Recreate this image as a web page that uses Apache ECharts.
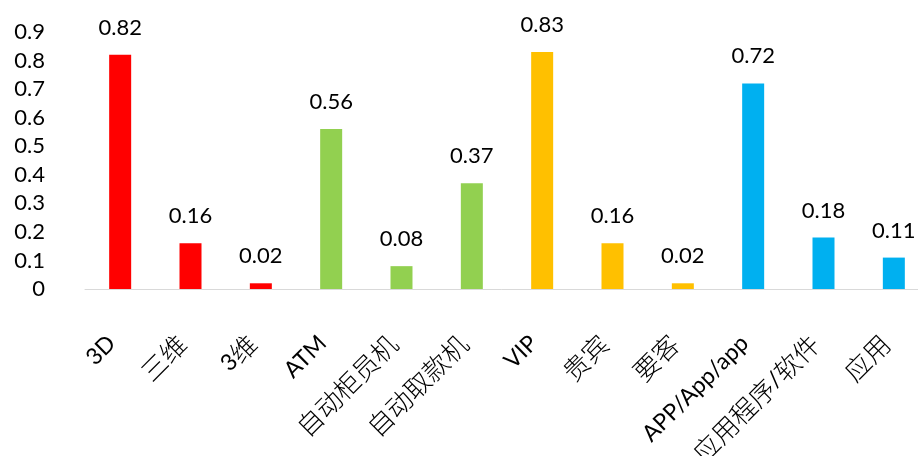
<!DOCTYPE html>
<html>
<head>
<meta charset="utf-8">
<script src="https://cdn.jsdelivr.net/npm/echarts@6/dist/echarts.min.js"></script>
<style>html,body{margin:0;padding:0;background:#fff;}#c{width:918px;height:456px;}</style>
</head>
<body>
<div id="c"></div>
<script>
var categories = ['3D', '三维', '3维', 'ATM', '自动柜员机', '自动取款机', 'VIP', '贵宾', '要客', 'APP/App/app', '应用程序/软件', '应用'];
var values = [0.82, 0.16, 0.02, 0.56, 0.08, 0.37, 0.83, 0.16, 0.02, 0.72, 0.18, 0.11];
var groupColors = ['#FF0000', '#FF0000', '#FF0000', '#92D050', '#92D050', '#92D050', '#FFC000', '#FFC000', '#FFC000', '#00B0F0', '#00B0F0', '#00B0F0'];
var yTicks = [0, 0.1, 0.2, 0.3, 0.4, 0.5, 0.6, 0.7, 0.8, 0.9];

var chart = echarts.init(document.getElementById('c'));
function richLabel(s) {
  return s.replace(/([\u4e00-\u9fff]+)/g, '{c|$1}').replace(/(^|\})([^{}]+?)(?=\{|$)/g, function (m, p, t) { return p + '{l|' + t + '}'; });
}
chart.setOption({
  animation: false,
  grid: { left: 85, top: 32, width: 844, height: 257, outerBoundsMode: 'none', containLabel: false },
  xAxis: {
    type: 'category',
    data: categories,
    axisLine: { lineStyle: { color: '#d9d9d9', width: 1 } },
    axisTick: { show: false },
    axisLabel: {
      interval: 0,
      rotate: 45,
      margin: 42,
      padding: [0, 12, 0, 0],
      color: '#000',
      formatter: function (v) { return richLabel(v); },
      rich: {
        l: { fontFamily: 'Lato', fontSize: 23, color: '#000' },
        c: { fontFamily: 'Noto Sans CJK SC', fontWeight: 300, fontSize: 26, color: '#000' }
      }
    }
  },
  yAxis: {
    type: 'value',
    min: 0,
    max: 0.9,
    interval: 0.1,
    splitLine: { show: false },
    axisLine: { show: false },
    axisTick: { show: false },
    axisLabel: {
      margin: 40,
      color: '#000',
      fontFamily: 'Lato',
      fontSize: 22,
      formatter: function (v) {
        var t = yTicks.find(function (x) { return Math.abs(x - v) < 1e-6; });
        return String(t !== undefined ? t : +v.toFixed(1));
      }
    }
  },
  series: [{
    type: 'bar',
    barWidth: 22,
    data: values.map(function (v, i) { return { value: v, itemStyle: { color: groupColors[i] } }; }),
    label: {
      show: true,
      position: 'top',
      distance: 16,
      color: '#000',
      fontFamily: 'Lato',
      fontSize: 22,
      formatter: function (p) { return p.value.toFixed(2); }
    }
  }]
});
</script>
</body>
</html>
